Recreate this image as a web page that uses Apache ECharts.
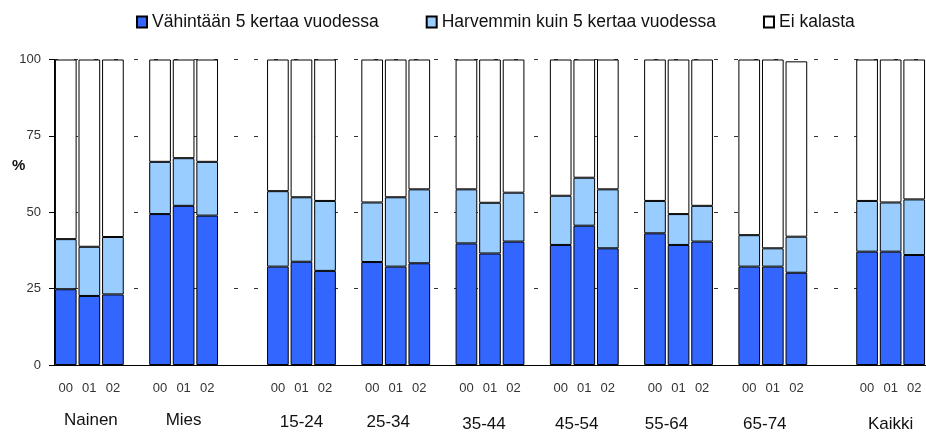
<!DOCTYPE html>
<html>
<head>
<meta charset="utf-8">
<title>Kalastus</title>
<script src="https://cdn.jsdelivr.net/npm/echarts@6/dist/echarts.min.js"></script>
<style>
  html, body { margin: 0; padding: 0; background: #fff; }
  #chart { width: 926px; height: 436px; }
</style>
</head>
<body>
<div id="chart"></div>
<script>
// Groups and survey years
const groups = ['Nainen', 'Mies', '15-24', '25-34', '35-44', '45-54', '55-64', '65-74', 'Kaikki'];
const years = ['00', '01', '02'];

// Share (%) per group, one value per year
const frequent = [
  [24.8, 22.6, 23.1], [49.4, 52.1, 48.9], [32.2, 33.8, 30.8],
  [33.7, 32.2, 33.3], [39.8, 36.5, 40.4], [39.3, 45.6, 38.2],
  [43.1, 39.3, 40.4], [32.2, 32.2, 30.2], [37.1, 37.1, 36.0]
];
const occasional = [
  [16.4, 16.1, 18.8], [17.1, 15.6, 17.6], [24.7, 21.1, 22.9],
  [19.5, 22.7, 24.2], [17.7, 16.6, 16.0], [16.1, 15.7, 19.3],
  [10.6, 10.1, 11.7], [10.3, 6.0, 11.8], [16.6, 16.1, 18.2]
];
const none = [
  [58.8, 61.3, 58.1], [33.5, 32.3, 33.5], [43.1, 45.1, 46.3],
  [46.8, 45.1, 42.5], [42.5, 46.9, 43.6], [44.6, 38.7, 42.5],
  [46.3, 50.6, 47.9], [57.5, 61.8, 57.4], [46.3, 46.8, 45.8]
];

const yTicks = [0, 25, 50, 75, 100];
const seriesNames = ['Vähintään 5 kertaa vuodessa', 'Harvemmin kuin 5 kertaa vuodessa', 'Ei kalasta'];

// Empty slots placed before each group on the category axis
const gapsBefore = [0, 1, 2, 1, 1, 1, 1, 1, 2];
// Fine placement of the group captions: [dx, dy] in px
const captionShift = [[1.5, 0], [0, 0], [0, 5.5], [-7.5, 5], [-6, 8], [-7.5, 8], [-12, 8], [-8, 8], [0, 8]];

const slots = [];          // category keys
const slotYear = [];       // label shown under each bar
const slotGroupCenter = {}; // slot index -> group index
groups.forEach((g, gi) => {
  for (let k = 0; k < gapsBefore[gi]; k++) {
    slots.push('gap-' + gi + '-' + k);
    slotYear.push('');
  }
  years.forEach((y, yi) => {
    if (yi === 1) slotGroupCenter[slots.length] = gi;
    slots.push(g + ' ' + y);
    slotYear.push(y);
  });
});

function toSlots(values) {
  const out = [];
  groups.forEach((g, gi) => {
    for (let k = 0; k < gapsBefore[gi]; k++) out.push(null);
    values[gi].forEach(v => out.push(v));
  });
  return out;
}

const FONT = 'Liberation Sans, Arial, sans-serif';
const colors = ['#3366FF', '#99CCFF', '#FFFFFF'];
const seriesData = [frequent, occasional, none];

const rich = {};
captionShift.forEach((s, i) => {
  const dx = s[0], dy = s[1];
  rich['g' + i] = {
    fontSize: 17,
    fontFamily: FONT,
    color: '#111',
    lineHeight: 20,
    padding: [dy, dx < 0 ? -2 * dx : 0, 0, dx > 0 ? 2 * dx : 0]
  };
});

const chart = echarts.init(document.getElementById('chart'), null, { renderer: 'canvas' });
chart.setOption({
  animation: false,
  backgroundColor: '#fff',
  textStyle: { fontFamily: FONT },
  legend: {
    left: 131,
    top: 8,
    itemWidth: 10,
    itemHeight: 11,
    itemGap: 47,
    icon: 'rect',
    selectedMode: false,
    textStyle: { fontSize: 17.5, color: '#111', fontFamily: FONT },
    data: seriesNames
  },
  grid: { left: 54, right: -7, top: 59.5, bottom: 71, containLabel: false },
  xAxis: [
    {
      type: 'category',
      data: slots,
      boundaryGap: true,
      axisLine: { show: true, lineStyle: { color: '#000', width: 1 } },
      axisTick: { show: false },
      axisLabel: {
        interval: 0,
        margin: 17,
        fontSize: 13,
        color: '#333',
        fontFamily: FONT,
        formatter: (v, i) => slotYear[i]
      },
      splitLine: { show: false }
    },
    {
      type: 'category',
      data: slots,
      position: 'bottom',
      boundaryGap: true,
      axisLine: { show: false },
      axisTick: { show: false },
      axisLabel: {
        interval: 0,
        margin: 45,
        rich: rich,
        formatter: (v, i) => {
          const gi = slotGroupCenter[i];
          return gi === undefined ? '' : '{g' + gi + '|' + groups[gi] + '}';
        }
      },
      splitLine: { show: false }
    }
  ],
  yAxis: {
    type: 'value',
    min: yTicks[0],
    max: yTicks[yTicks.length - 1],
    interval: 25,
    axisLine: { show: true, lineStyle: { color: '#000', width: 1 } },
    axisTick: { show: true, inside: false, length: 5, lineStyle: { color: '#000' } },
    axisLabel: { margin: 13, fontSize: 13, color: '#333', fontFamily: FONT },
    splitLine: { show: true, lineStyle: { color: '#333', width: 1, type: [4, 16] } }
  },
  graphic: [
    {
      type: 'text',
      left: 12,
      top: 158,
      style: { text: '%', font: 'bold 15px ' + FONT, fill: '#111' }
    }
  ],
  series: seriesNames.map((name, si) => ({
    name: name,
    type: 'bar',
    stack: 'share',
    xAxisIndex: 0,
    barCategoryGap: '8%',
    data: toSlots(seriesData[si]),
    itemStyle: { color: colors[si], borderColor: '#000', borderWidth: 1 },
    emphasis: { disabled: true }
  }))
});
</script>
</body>
</html>
